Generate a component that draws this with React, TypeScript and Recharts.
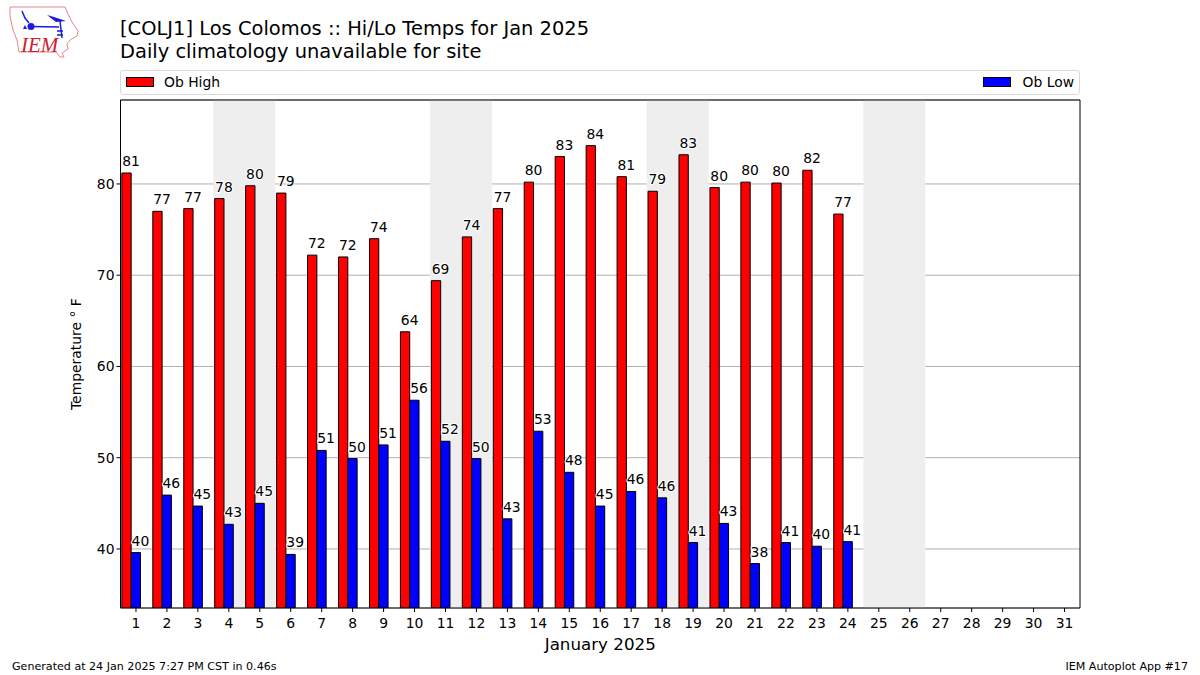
import { Bar, BarChart, CartesianGrid, LabelList, ReferenceArea, ReferenceLine, XAxis, YAxis } from 'recharts';

const FONT = '"DejaVu Sans", sans-serif';

const days = Array.from({ length: 31 }, (_, i) => i + 1);
const obHigh = [81.2, 77.0, 77.3, 78.4, 79.8, 79.0, 72.2, 72.0, 74.0, 63.8, 69.4, 74.2, 77.3, 80.2, 83.0, 84.2, 80.8, 79.2, 83.2, 79.6, 80.2, 80.1, 81.5, 76.7];
const obLow = [39.6, 45.9, 44.7, 42.7, 45.0, 39.4, 50.8, 49.9, 51.4, 56.3, 51.8, 49.9, 43.3, 52.9, 48.4, 44.7, 46.3, 45.6, 40.7, 42.8, 38.4, 40.7, 40.3, 40.8];
const weekends = [[3.5, 5.5], [10.5, 12.5], [17.5, 19.5], [24.5, 26.5]];
const yTicks = [40, 50, 60, 70, 80];

const rows = obHigh.map((h, i) => ({ day: days[i], high: h, low: obLow[i] }));

// value label, rounded, shifted right of the bar centre with a white halo
function BarValue(props: any) {
  const { x, y, width, value } = props;
  return (
    <text
      x={x + width / 2 + 4.6}
      y={y - 7}
      textAnchor="middle"
      fontSize={13.9}
      fontFamily={FONT}
      fill="#000"
      stroke="#fff"
      strokeWidth={2}
      paintOrder="stroke"
    >
      {Math.round(value)}
    </text>
  );
}

function LegendBar() {
  const swatch = (color: string) => (
    <span style={{ display: 'inline-block', width: 28, height: 10, background: color, border: '1px solid #000', boxSizing: 'border-box' }} />
  );
  return (
    <div
      style={{
        position: 'absolute',
        left: 120,
        top: 70,
        width: 960,
        height: 25,
        boxSizing: 'border-box',
        border: '1px solid #d9d9d9',
        borderRadius: 3,
        display: 'flex',
        justifyContent: 'space-between',
        alignItems: 'center',
        padding: '0 5px 2px 5px',
        fontSize: 13.9,
        fontFamily: FONT,
        background: '#fff',
      }}
    >
      <span style={{ display: 'flex', alignItems: 'center', gap: 10 }}>{swatch('#ff0000')}Ob High</span>
      <span style={{ display: 'flex', alignItems: 'center', gap: 11 }}>{swatch('#0000ff')}Ob Low</span>
    </div>
  );
}

function Logo() {
  return (
    <svg width={90} height={62} style={{ position: 'absolute', left: 0, top: 0 }}>
      <path
        d="M10 7 L65 7 L68 14 L72 22 L78 31 L77 36 L70 40 L67 44 L68 49 L62 53 L64 57 L60 57 L56 52 L19 52 L17 40 L13 30 L10 16 Z"
        fill="none"
        stroke="#e08a8a"
        strokeWidth={1}
      />
      <path d="M31 26.5 L59 27 M22 11 L25 18 L29 23 M60 21 L62 38 M57 31 L63 31 M57 35 L63 35" fill="none" stroke="#1a1ae0" strokeWidth={1.5} />
      <path d="M47 15 L54 17 L66 21 L56 22 Z" fill="#1a1ae0" />
      <circle cx={31} cy={26.5} r={3.5} fill="#1a1ae0" />
      <path d="M23 29 L25 25 L27 29 Z" fill="#1a1ae0" />
      <text x={21} y={52} fontSize={21} fontStyle="italic" fontFamily='"Liberation Serif", serif' fill="#d02030">
        IEM
      </text>
    </svg>
  );
}

export default function App() {
  return (
    <div style={{ position: 'absolute', left: 0, top: 0, width: 1200, height: 675, background: '#fff', fontFamily: FONT, color: '#000' }}>
      <Logo />
      <div style={{ position: 'absolute', left: 120, top: 18, fontSize: 19.47, lineHeight: '22.5px', whiteSpace: 'nowrap' }}>
        [COLJ1] Los Colomos :: Hi/Lo Temps for Jan 2025
        <br />
        Daily climatology unavailable for site
      </div>
      <LegendBar />
      <BarChart
        width={1200}
        height={675}
        data={rows}
        barGap={0}
        barSize={9.3}
        margin={{ top: 100, right: 120, bottom: 37, left: 60.5 }}
        style={{ position: 'absolute', left: 0, top: 0 }}
      >
        {weekends.map(([a, b]) => (
          <ReferenceArea key={a} x1={a} x2={b} fill="#eeeeee" fillOpacity={1} stroke="none" />
        ))}
        <CartesianGrid vertical={false} stroke="#b0b0b0" strokeWidth={1} />
        <XAxis
          dataKey="day"
          type="number"
          domain={[0.5, 31.5]}
          ticks={days}
          interval={0}
          height={30}
          allowDataOverflow
          stroke="#000"
          tickLine={{ stroke: '#000' }}
          tickSize={4}
          tickMargin={6}
          tick={{ fontSize: 13.9, fontFamily: FONT, fill: '#000' }}
          label={{ value: 'January 2025', position: 'insideBottom', offset: -12, fontSize: 16.7, fontFamily: FONT, fill: '#000' }}
        />
        {/* the bar pairs sit a bar-width fraction left of the tick, as in the source plot */}
        <XAxis xAxisId="bars" dataKey="day" type="number" domain={[0.65, 31.65]} hide allowDataOverflow />
        <YAxis
          type="number"
          domain={[33.53, 89.2]}
          ticks={yTicks}
          width={60}
          allowDataOverflow
          stroke="#000"
          tickLine={{ stroke: '#000' }}
          tickSize={4}
          tick={{ fontSize: 13.9, fontFamily: FONT, fill: '#000' }}
          label={{ value: 'Temperature ° F', angle: -90, position: 'insideLeft', offset: 16, dy: 56, fontSize: 13.9, fontFamily: FONT, fill: '#000' }}
        />
        <Bar xAxisId="bars" dataKey="high" name="Ob High" fill="#ff0000" stroke="#000" strokeWidth={1} isAnimationActive={false}>
          <LabelList dataKey="high" content={BarValue} />
        </Bar>
        <Bar xAxisId="bars" dataKey="low" name="Ob Low" fill="#0000ff" stroke="#000" strokeWidth={1} isAnimationActive={false}>
          <LabelList dataKey="low" content={BarValue} />
        </Bar>
        <ReferenceLine y={89.2} stroke="#000" />
        <ReferenceLine x={31.5} stroke="#000" />
      </BarChart>
      <div style={{ position: 'absolute', left: 12, top: 660, fontSize: 11.1, whiteSpace: 'nowrap' }}>Generated at 24 Jan 2025 7:27 PM CST in 0.46s</div>
      <div style={{ position: 'absolute', right: 12, top: 660, fontSize: 11.1, whiteSpace: 'nowrap' }}>IEM Autoplot App #17</div>
    </div>
  );
}
